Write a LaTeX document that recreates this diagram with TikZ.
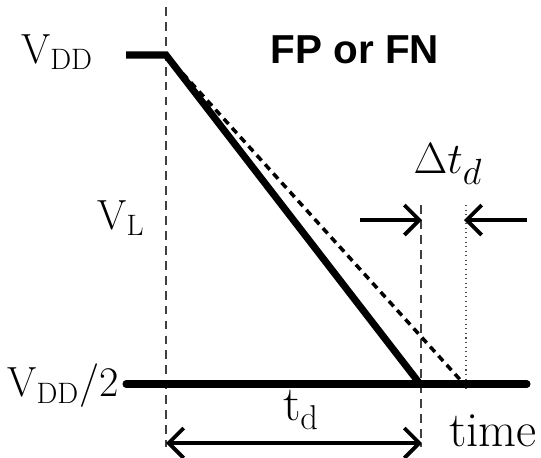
\documentclass[tikz,border=0pt]{standalone}
\usepackage{fontspec}
\newfontfamily\headfont{Liberation Sans}
\usetikzlibrary{arrows.meta}

\begin{document}
\begin{tikzpicture}[
        x=0.02cm, y=-0.02cm,
        lbl/.style={
            font=\fontsize{24}{28}\selectfont,
            inner sep=0pt
        },
        biglbl/.style={
            font=\fontsize{28}{32}\selectfont,
            inner sep=0pt
        },
        signal/.style={line width=4pt, line join=miter},
        delayed/.style={line width=2pt, dash pattern=on 4pt off 3pt},
        guide/.style={line width=0.8pt, dash pattern=on 5pt off 3.5pt,
            draw=black!75},
        marker/.style={line width=0.6pt, dotted, draw=black!70},
        span/.style={line width=2.2pt,
            -{Straight Barb[length=0.3cm, width=0.6cm]}},
        spanboth/.style={span,
            {Straight Barb[length=0.3cm, width=0.6cm]}-{Straight Barb[length=0.3cm, width=0.6cm]}}
    ]
        \useasboundingbox (0,0) rectangle (541,457);

        % Key points of the waveform
        \coordinate (hiL)   at (126,55);
        \coordinate (t0)    at (166,55);
        \coordinate (midL)  at (126,384);
        \coordinate (midR)  at (527,384);
        \coordinate (tx)    at (420,384);
        \coordinate (txd)   at (464,384);

        % Guide lines
        \coordinate (g0top) at (166,7);
        \coordinate (g0bot) at (166,447);
        \coordinate (g1top) at (421,205);
        \coordinate (g1bot) at (421,447);
        \coordinate (g2top) at (466,205);
        \coordinate (g2bot) at (466,390);

        \draw[guide] (g0top) -- (g0bot);
        \draw[guide] (g1top) -- (g1bot);
        \draw[marker] (g2top) -- (g2bot);

        % Waveforms
        \draw[delayed] (t0) -- (txd);
        \draw[signal] (hiL) -- (t0) -- (tx);
        \draw[signal, line cap=round] (midL) -- (midR);

        % Labels
        \node[lbl] (vdd)  at (57,52)  {$\mathrm{V_{DD}}$};
        \node[lbl] (vl)   at (121,218) {$\mathrm{V_L}$};
        \node[lbl] (vdd2) at (63,386) {$\mathrm{V_{DD}/2}$};
        \node[font=\headfont\bfseries\fontsize{23}{27}\selectfont,
            inner sep=0pt] (title) at (355,50) {FP or FN};
        \node[font=\fontsize{30}{34}\selectfont, inner sep=0pt]
            (dtd) at (448,164) {$\Delta t_d$};
        \node[biglbl] (td)   at (301,410) {$\mathrm{t_d}$};
        \node[biglbl] (time) at (493,431) {time};

        % Delay arrows
        \coordinate (aL)  at (360,220);
        \coordinate (aLt) at (422,220);
        \coordinate (aR)  at (527,220);
        \coordinate (aRt) at (464,220);
        \draw[span] (aL) -- (aLt);
        \draw[span] (aR) -- (aRt);

        \coordinate (bL) at (166,443);
        \coordinate (bR) at (422,443);
        \draw[spanboth] (bL) -- (bR);
    \end{tikzpicture}
\end{document}
